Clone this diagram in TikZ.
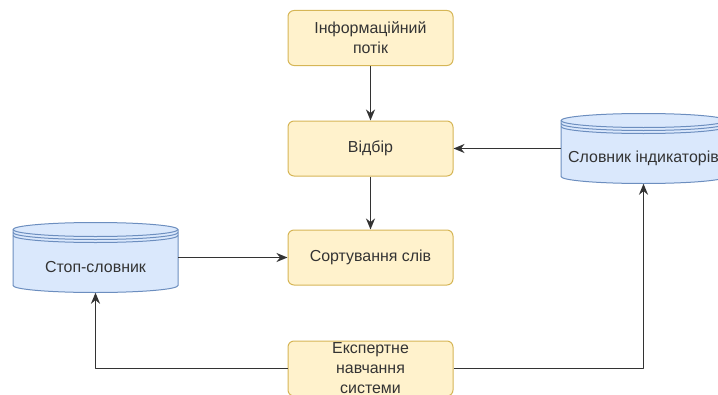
\documentclass[tikz,border=0pt]{standalone}
\usepackage{fontspec}
\setmainfont{Liberation Sans}
\usetikzlibrary{arrows.meta}
\definecolor{boxfill}{HTML}{FFF2CC}
\definecolor{boxline}{HTML}{D6B656}
\definecolor{dbfill}{HTML}{DAE8FC}
\definecolor{dbline}{HTML}{6C8EBF}
\definecolor{txt}{HTML}{333333}
\definecolor{arr}{HTML}{333333}
\begin{document}
\begin{tikzpicture}[x=1bp, y=1bp, font=\fontsize{16}{20}\selectfont, line join=round, >={Stealth[length=11bp,width=9bp]},
	box/.style={draw=boxline, fill=boxfill, line width=1bp, rounded corners=6bp, minimum width=165bp, minimum height=55bp, inner sep=0pt, align=center, text=txt},
	dbshape/.style={draw=dbline, fill=dbfill, line width=1bp},
	dbnode/.style={minimum width=165bp, minimum height=70bp, inner sep=0pt},
	dbtext/.style={text=txt, inner sep=0pt},
	link/.style={->, draw=arr, line width=1.8bp}]
	\path[use as bounding box] (0,0) rectangle (718,394);
	\clip (0,0) rectangle (718,394);
	\foreach \n/\y/\t in {flow/356/{Інформаційний\\потік}, pick/245.5/Відбір, sort/136.5/Сортування слів, learn/25.5/{Експертне\\навчання\\системи}}
	\node[box] (\n) at (370.5,\y) {\t};
	\foreach \n/\x/\y/\t in {stop/95.5/136.5/Стоп-словник, dict/643.5/245.5/Словник індикаторів}{
		\begin{scope}[shift={(\x,\y)}]
			\filldraw[dbshape] (-82.5,28) -- (-82.5,-28) arc[start angle=180, end angle=360, x radius=82.5, y radius=7] -- (82.5,28) arc[start angle=0, end angle=180, x radius=82.5, y radius=7] -- cycle;
			\foreach \d in {0,3,6}
			\draw[dbshape, fill=none] (-82.5,28-\d) arc[start angle=180, end angle=360, x radius=82.5, y radius=7];% кільця кришки
		\end{scope}
		\node[dbnode] (\n) at (\x,\y) {};
		\node[dbtext] (\n-txt) at (\x,\y-10) {\t};
	}
	\draw[link] (flow) -- (pick);
	\draw[link] (pick) -- (sort);
	\draw[link] (stop) -- (sort);
	\draw[link] (dict) -- (pick);
	\draw[link] (learn.west) -| (stop.south);
	\draw[link] (learn.east) -| (dict.south);
\end{tikzpicture}
\end{document}
